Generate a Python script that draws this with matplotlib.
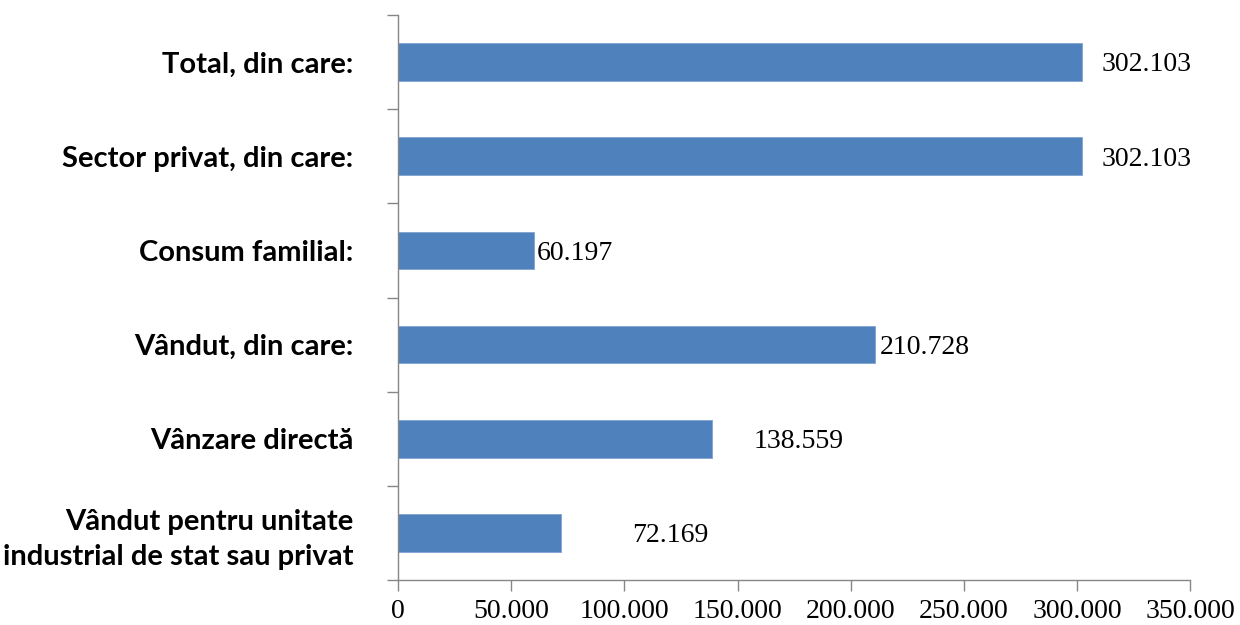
import matplotlib
matplotlib.use("Agg")
import matplotlib.pyplot as plt
from matplotlib.ticker import FuncFormatter, FixedLocator

categories = [
    "Total, din care:",
    "Sector privat, din care:",
    "Consum familial:",
    "Vândut, din care:",
    "Vânzare directă",
    "Vândut pentru unitate\nindustrial de stat sau privat",
]
values = [302103, 302103, 60197, 210728, 138559, 72169]
value_labels = ["302.103", "302.103", "60.197", "210.728", "138.559", "72.169"]
# manual nudges of the value labels (points), as in the source chart
label_offsets = [14, 14, 2, 3, 30, 51]

x_ticks = [0, 50000, 100000, 150000, 200000, 250000, 300000, 350000]

bar_color = "#4F81BD"
axis_color = "#868686"

fig = plt.figure(figsize=(12.4, 6.25), dpi=100)
ax = fig.add_axes([0.321, 0.072, 0.639, 0.904])

n = len(categories)
ypos = list(range(n))
ax.barh(ypos, values, height=0.4, color=bar_color, edgecolor="#7FA3D0", linewidth=0.6)

ax.set_ylim(n - 0.5, -0.5)
ax.set_xlim(0, 350000)

for y, v, lab, off in zip(ypos, values, value_labels, label_offsets):
    ax.annotate(lab, (v, y), xytext=(off, -2), textcoords="offset points",
                ha="left", va="center", fontsize=20, family="Liberation Serif")

ax.set_yticks(ypos)
ax.set_yticklabels(categories, fontsize=21, fontweight="bold", family="Lato",
                   linespacing=1.4)
ax.yaxis.set_minor_locator(FixedLocator([i - 0.5 for i in range(n + 1)]))
ax.tick_params(axis="y", which="major", length=0, pad=32)
ax.tick_params(axis="y", which="minor", length=8, width=1, color=axis_color)

ax.set_xticks(x_ticks)
ax.xaxis.set_major_formatter(FuncFormatter(lambda x, p: "{:,.0f}".format(x).replace(",", ".")))
ax.tick_params(axis="x", length=8, width=1, color=axis_color, pad=6)
for lbl in ax.get_xticklabels():
    lbl.set_family("Liberation Serif")
    lbl.set_fontsize(20)

for side in ["top", "right"]:
    ax.spines[side].set_visible(False)
for side in ["left", "bottom"]:
    ax.spines[side].set_color(axis_color)
    ax.spines[side].set_linewidth(1)

fig.savefig("out.png", dpi=100)
